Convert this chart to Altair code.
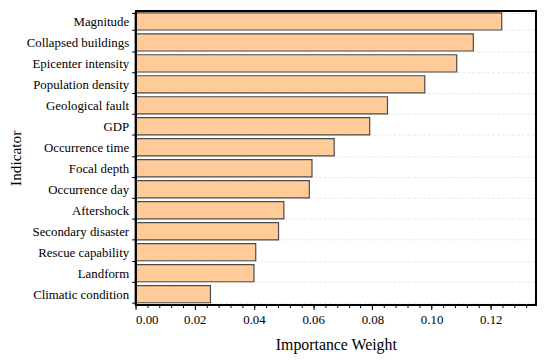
import altair as alt
import pandas as pd

indicators = ["Magnitude", "Collapsed buildings", "Epicenter intensity", "Population density",
              "Geological fault", "GDP", "Occurrence time", "Focal depth", "Occurrence day",
              "Aftershock", "Secondary disaster", "Rescue capability", "Landform", "Climatic condition"]
weights = [0.1237, 0.1141, 0.1085, 0.0977, 0.0851, 0.0791, 0.0671, 0.0596, 0.0587,
           0.0501, 0.0483, 0.0406, 0.0400, 0.0253]
major_ticks = [0.00, 0.02, 0.04, 0.06, 0.08, 0.10, 0.12]
minor_ticks = [round(i * 0.004, 3) for i in range(0, 34)]
x_max = 0.1353

df = pd.DataFrame({"Indicator": indicators, "Weight": weights})
FONT = "Liberation Serif"
W, H = 405, 297

xscale = alt.Scale(domain=[0, x_max], nice=False, zero=True)
yenc = alt.Y("Indicator:N", sort=indicators, title="Indicator",
             scale=alt.Scale(paddingInner=0.18, paddingOuter=0.09),
             axis=alt.Axis(tickBand="extent", tickSize=4, labelFontSize=13, titleFontSize=15.5,
                           labelFont=FONT, titleFont=FONT, labelColor="black", titleColor="black",
                           labelPadding=3, titlePadding=3, grid=True, gridColor="#e8e8e8",
                           gridDash=[3, 2], domainColor="black", tickColor="black",
                           titleFontWeight="normal"))

bars = alt.Chart(df).mark_bar(color="#FFCC99", stroke="#4a4a4a", strokeWidth=1.2).encode(
    x=alt.X("Weight:Q", scale=xscale, title="Importance Weight",
            axis=alt.Axis(values=major_ticks, format=".2f", tickSize=5, labelFontSize=13,
                          titleFontSize=16, labelFont=FONT, titleFont=FONT, labelColor="black",
                          titleColor="black", labelPadding=4, titlePadding=10, grid=False,
                          domainColor="black", tickColor="black", titleFontWeight="normal",
                          orient="bottom")),
    y=yenc,
)

minor = alt.Chart(df).mark_bar(opacity=0).encode(
    x=alt.X("Weight:Q", scale=xscale, title=None,
            axis=alt.Axis(values=minor_ticks, labels=False, tickSize=3, grid=False, domain=False,
                          tickColor="black", orient="bottom")),
    y=yenc,
)

frame = alt.Chart(df).mark_rect(fillOpacity=0, stroke="black", strokeWidth=1.2).encode(
    x=alt.value(0), x2=alt.value(W), y=alt.value(0), y2=alt.value(H)
)

chart = alt.layer(bars, minor, frame).resolve_axis(x="independent").properties(
    width=W, height=H,
    autosize=alt.AutoSizeParams(type="none"),
    padding={"left": 129, "top": 1, "right": 6, "bottom": 50},
).configure_view(stroke=None)

chart.save("out.html", embed_options={"renderer": "svg", "actions": False})
